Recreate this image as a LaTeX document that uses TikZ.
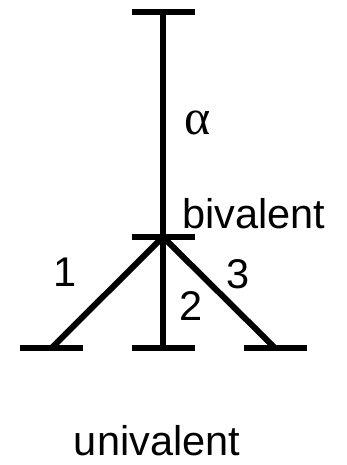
\documentclass[tikz,border=0pt]{standalone}
\usepackage{fontspec}
\setmainfont{Liberation Sans}
\newfontfamily\greekfont{Liberation Serif}
\tikzset{
  bond/.style={line width=6pt},
  label/.style={inner sep=0pt, font=\fontsize{41.5}{48}\selectfont},
}
\begin{document}
\begin{tikzpicture}[x=1pt,y=-1pt]

% Frame
\useasboundingbox (0,0) rectangle (346,465);

% Ends of the bonds
\coordinate (top) at (163,12);
\coordinate (hub) at (163,237);
\coordinate (left) at (51.5,348);
\coordinate (mid) at (163,348);
\coordinate (right) at (275,348);

% Bonds
\draw[bond] (top) -- (hub);
\draw[bond] (hub) -- (left);
\draw[bond] (hub) -- (mid);
\draw[bond] (hub) -- (right);

% Bars
\foreach \p in {top,hub,left,mid,right}
  \draw[bond] ([xshift=-31.5pt]\p) -- ([xshift=31.5pt]\p);

% Labels
\node[label, font=\greekfont\fontsize{50}{54}\selectfont, anchor=base west] (alpha) at (184,135) {α};
\node[label, anchor=base west] (biv) at (182,228) {bivalent};
\node[label] (one) at (65,272.5) {1};
\node[label] (two) at (191,306) {2};
\node[label] (three) at (238,274) {3};
\node[label, anchor=base] (univ) at (157,455) {univalent};

\end{tikzpicture}
\end{document}
